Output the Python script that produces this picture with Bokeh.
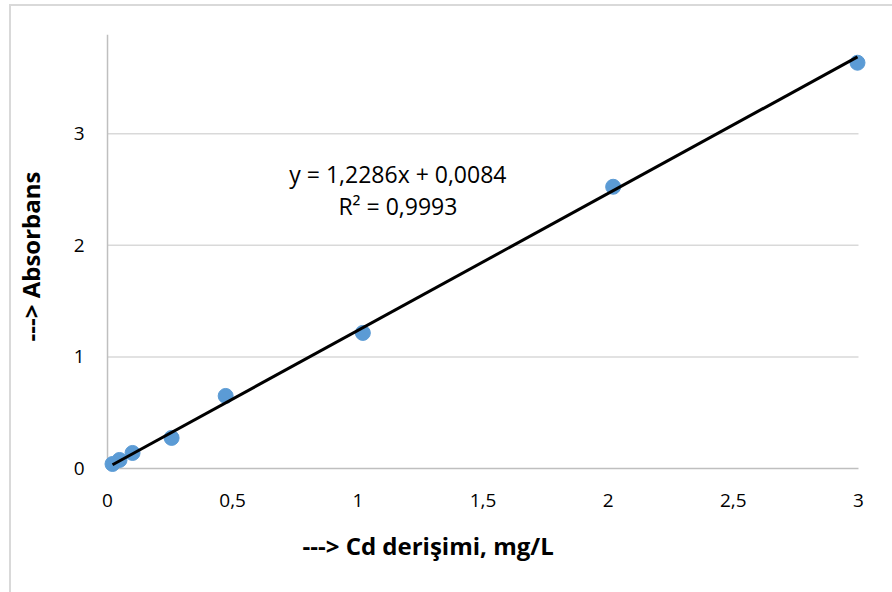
import numpy as np
from bokeh.plotting import figure
from bokeh.models import Title, FixedTicker, Range1d, CustomJSTickFormatter, Label
from bokeh.embed import file_html
from bokeh.resources import INLINE

# data
conc = [0.02, 0.048, 0.10, 0.256, 0.472, 1.02, 2.02, 2.996]
absorb = [0.04, 0.076, 0.139, 0.274, 0.65, 1.215, 2.525, 3.637]
slope = 1.2286
intercept = 0.0084
eq_text = "y = 1,2286x + 0,0084"
r2_text = "R² = 0,9993"
x_ticks = [0, 0.5, 1, 1.5, 2, 2.5, 3]
y_ticks = [0, 1, 2, 3]
x_min, x_max = 0, 3
y_min, y_max = 0, 3.89
x_title = "---> Cd derişimi, mg/L"
y_title = "---> Absorbans"

FONT = "Open Sans"

p = figure(width=892, height=592, output_backend="svg", toolbar_location=None,
           x_range=Range1d(-0.04, 3.04), y_range=Range1d(-0.09, y_max),
           min_border_left=97, min_border_right=24, min_border_top=34, min_border_bottom=114)
p.outline_line_color = None
p.background_fill_color = "white"
p.border_fill_color = None
p.styles = {"box-shadow": "inset 9px 4px 0 0 white, inset 11px 6px 0 0 #d9d9d9",
            "background-color": "white"}

fmt = CustomJSTickFormatter(code="return String(tick).replace('.', ',');")
for ax, ticks in ((p.xaxis, x_ticks), (p.yaxis, y_ticks)):
    ax.ticker = FixedTicker(ticks=ticks)
    ax.formatter = fmt
    ax.axis_line_color = None
    ax.major_tick_line_color = None
    ax.minor_tick_line_color = None
    ax.major_label_text_font = FONT
    ax.major_label_text_font_size = "19px"
    ax.major_label_text_color = "#000000"
p.xaxis.major_label_standoff = 9
p.yaxis.major_label_standoff = 7
p.xgrid.grid_line_color = None
p.ygrid.grid_line_color = None

p.yaxis.axis_label = y_title
p.yaxis.axis_label_standoff = 24
p.yaxis.axis_label_text_font = FONT
p.yaxis.axis_label_text_font_size = "24px"
p.yaxis.axis_label_text_font_style = "bold"
p.yaxis.axis_label_text_color = "black"

# gridlines and axis lines, bounded to the plot area
gy = [t for t in y_ticks if t > 0]
p.segment(x0=[x_min] * len(gy), y0=gy, x1=[x_max] * len(gy), y1=gy,
          line_color="#d9d9d9", line_width=1.5)
p.segment(x0=[x_min, x_min], y0=[y_min, y_min], x1=[x_max, x_min], y1=[y_min, y_max],
          line_color="#bfbfbf", line_width=1.5)

xs = np.array([min(conc), max(conc)])
ys = slope * xs + intercept
p.scatter(conc, absorb, size=15, fill_color="#5b9bd5", line_color="#5b9bd5")
p.line(xs, ys, line_color="black", line_width=3)

for txt, yv in ((eq_text, 2.64), (r2_text, 2.35)):
    p.add_layout(Label(x=1.16, y=yv, text=txt, text_font=FONT, text_font_size="23px",
                       text_align="center", text_baseline="middle", text_color="black"))

p.add_layout(Title(text=x_title, align="left", offset=205, standoff=34,
                   text_font=FONT, text_font_size="24px", text_font_style="bold",
                   text_color="black"), "below")

open("out.html", "w").write(file_html(p, INLINE))
